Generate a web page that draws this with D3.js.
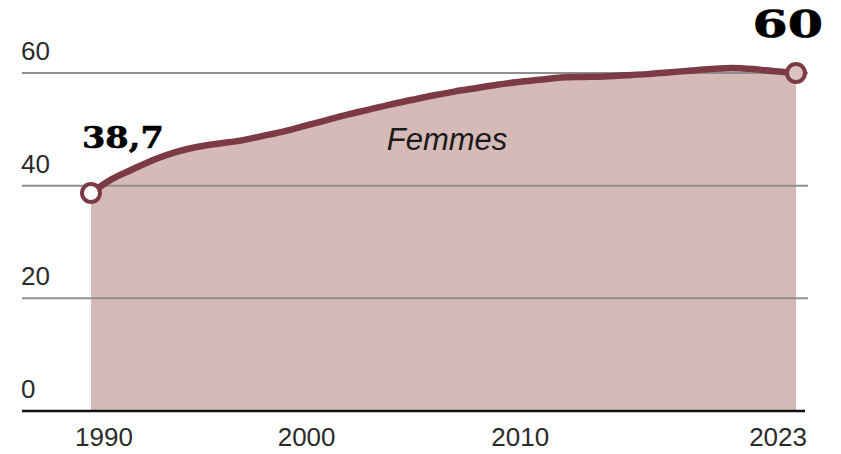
<!DOCTYPE html>
<html>
<head>
<meta charset="utf-8">
<title>Femmes</title>
<style>
  body { margin: 0; background: #fff; }
  .tick-y, .tick-x { font-family: "Liberation Sans", Arial, sans-serif; font-size: 26px; fill: #2b2b2b; }
  .grid { stroke: #8f8f8f; stroke-width: 2; }
  .base { stroke: #111; stroke-width: 2.5; }
  .area { fill: #d6bab7; }
  .line { fill: none; stroke: #7b3a44; stroke-width: 6.5; stroke-linecap: round; }
  .endlabel { font-family: "DejaVu Serif", Georgia, serif; font-weight: bold; fill: #000; stroke: #000; stroke-width: 0.6; }
  .series { font-family: "Liberation Sans", Arial, sans-serif; font-style: italic; font-size: 31px; fill: #1a1a1a; }
</style>
<script src="https://d3js.org/d3.v7.min.js"></script>
</head>
<body>
<svg id="chart" width="841" height="454"></svg>
<script>
// taux (%) par année
var years = [1990, 1991, 1992, 1993, 1994, 1995, 1996, 1997, 1998, 1999,
             2000, 2001, 2002, 2003, 2004, 2005, 2006, 2007, 2008, 2009,
             2010, 2011, 2012, 2013, 2014, 2015, 2016, 2017, 2018, 2019,
             2020, 2021, 2022, 2023];
var femmes = [38.7, 41.2, 43.0, 44.7, 46.0, 46.9, 47.5, 48.0, 48.8, 49.6,
              50.6, 51.6, 52.6, 53.5, 54.4, 55.2, 56.0, 56.7, 57.3, 57.9,
              58.4, 58.8, 59.2, 59.3, 59.4, 59.6, 59.8, 60.1, 60.4, 60.7,
              60.9, 60.7, 60.3, 60.0];
var yTicks = [0, 20, 40, 60];
var xTicks = [1990, 2000, 2010, 2023];
var seriesName = "Femmes";
var firstLabel = "38,7";
var lastLabel = "60";

var svg = d3.select("#chart");
var x = d3.scaleLinear().domain([1990, 2023]).range([91, 796]);
var y = d3.scaleLinear().domain([0, 60]).range([411, 73]);

var data = years.map(function(yr, i) { return { year: yr, value: femmes[i] }; });

// area first, gridlines drawn on top of it
svg.append("path")
    .datum(data)
    .attr("class", "area")
    .attr("d", d3.area()
        .curve(d3.curveMonotoneX)
        .x(function(d) { return x(d.year); })
        .y0(y(0))
        .y1(function(d) { return y(d.value); }));

svg.selectAll(".grid")
    .data(yTicks.filter(function(t) { return t > 0; }))
    .enter().append("line")
    .attr("class", "grid")
    .attr("x1", 22).attr("x2", 808)
    .attr("y1", function(d) { return y(d); })
    .attr("y2", function(d) { return y(d); });

svg.append("line")
    .attr("class", "base")
    .attr("x1", 22).attr("x2", 805)
    .attr("y1", y(0)).attr("y2", y(0));

svg.selectAll(".tick-y")
    .data(yTicks)
    .enter().append("text")
    .attr("class", "tick-y")
    .attr("x", 21)
    .attr("y", function(d) { return y(d) - 13; })
    .text(function(d) { return d; });

svg.selectAll(".tick-x")
    .data(xTicks)
    .enter().append("text")
    .attr("class", "tick-x")
    .attr("x", function(d, i) {
        if (i === 0) return x(d) - 16;
        if (i === xTicks.length - 1) return x(d) + 11;
        return x(d) + 2;
    })
    .attr("y", 446)
    .attr("text-anchor", function(d, i) {
        if (i === 0) return "start";
        if (i === xTicks.length - 1) return "end";
        return "middle";
    })
    .text(function(d) { return d; });

svg.append("path")
    .datum(data)
    .attr("class", "line")
    .attr("d", d3.line()
        .curve(d3.curveMonotoneX)
        .x(function(d) { return x(d.year); })
        .y(function(d) { return y(d.value); }));

var first = data[0], last = data[data.length - 1];

svg.append("circle")
    .attr("cx", x(first.year)).attr("cy", y(first.value)).attr("r", 9)
    .attr("fill", "#fff").attr("stroke", "#7b3a44").attr("stroke-width", 4);

svg.append("circle")
    .attr("cx", x(last.year)).attr("cy", y(last.value)).attr("r", 9)
    .attr("fill", "#dcc3c1").attr("stroke", "#7b3a44").attr("stroke-width", 4);

// chiffres en gras, un peu élargis comme dans l'original
svg.append("text")
    .attr("class", "endlabel")
    .attr("transform", "translate(" + (x(first.year) - 9) + ",148) scale(1.12,1)")
    .style("font-size", "30px")
    .text(firstLabel);

svg.append("text")
    .attr("class", "endlabel")
    .attr("transform", "translate(" + (x(last.year) + 27) + ",37) scale(1.37,1)")
    .attr("text-anchor", "end")
    .style("font-size", "37px")
    .text(lastLabel);

svg.append("text")
    .attr("class", "series")
    .attr("x", 447)
    .attr("y", 150)
    .attr("text-anchor", "middle")
    .text(seriesName);
</script>
</body>
</html>
